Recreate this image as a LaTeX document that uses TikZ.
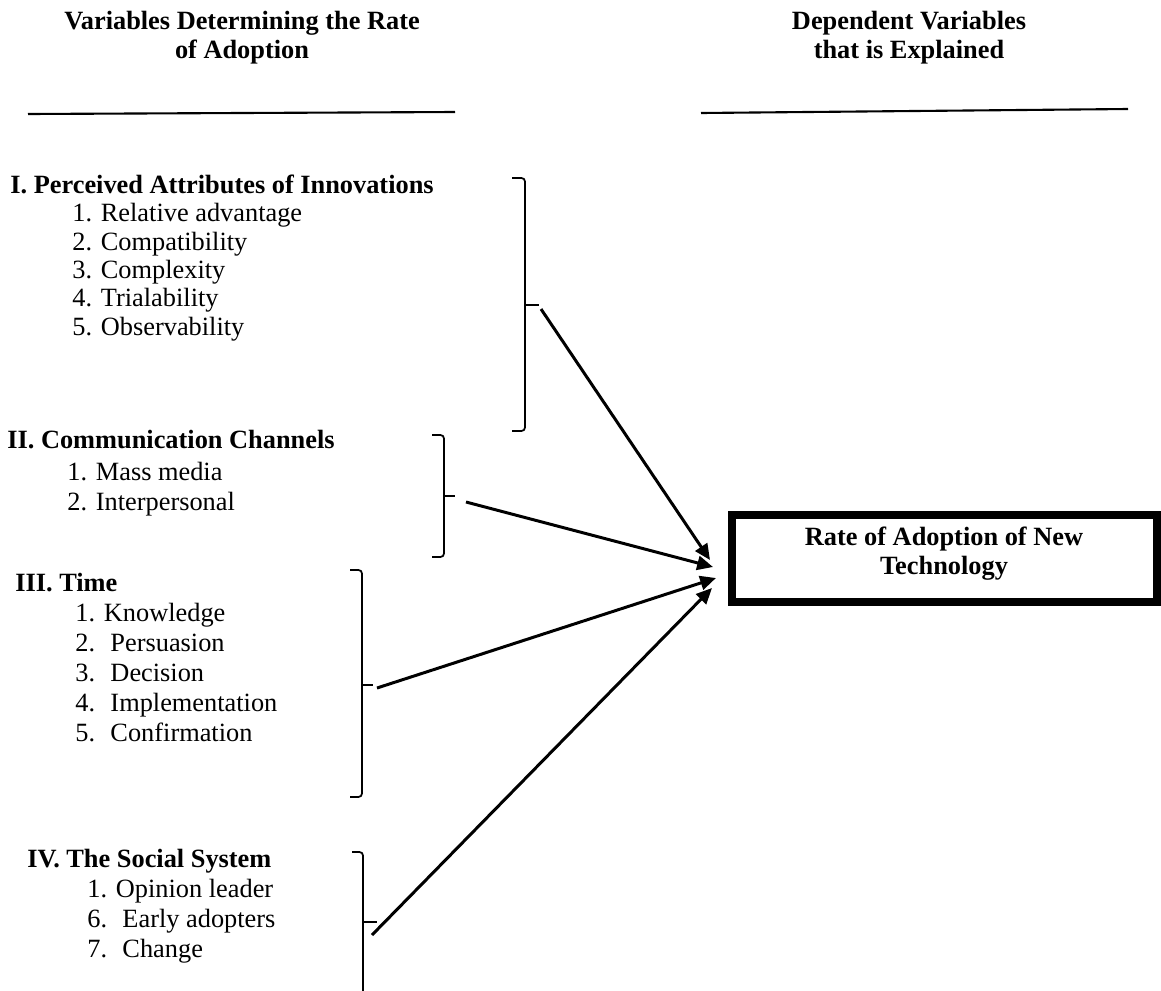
\documentclass[tikz,border=0pt]{standalone}
\usepackage{fontspec}
\setmainfont{Liberation Serif}
\usetikzlibrary{arrows.meta}

\begin{document}
\begin{tikzpicture}[x=0.02cm, y=-0.02cm, >={Triangle[length=9pt, width=8pt]},
    every node/.style={inner sep=0pt, font=\fontsize{15}{17}\selectfont},
    head/.style={font=\fontsize{15}{16}\selectfont\bfseries, align=center, anchor=base},
    grp/.style={font=\fontsize{15}{17}\selectfont\bfseries, anchor=base west},
    items/.style={align=left, anchor=base west},
    brace/.style={line width=1pt, rounded corners=2pt},
    link/.style={->, line width=1.7pt}]
    \useasboundingbox (0,0) rectangle (1161,991);
    % column heads (base = last line)
    \node (lhead) [head] at (242,58) {Variables Determining the Rate\\ of Adoption};
    \node (rhead) [head] at (909,58) {Dependent Variables\\ that is Explained};
    \draw[line width=1.2pt] (28,114) -- (455,112);
    \draw[line width=1.2pt] (701,113) -- (1128,109);
    % the four groups
    \node (attr) [grp] at (10,193) {I. Perceived Attributes of Innovations};
    \node (attrlist) [items, font=\fontsize{15}{16.1}\selectfont] at (72,335) {1. Relative advantage\\ 2. Compatibility\\ 3. Complexity\\ 4. Trialability\\ 5. Observability};
    \node (chan) [grp] at (7,448) {II. Communication Channels};
    \node (chanlist) [items] at (67,510) {1. Mass media\\ 2. Interpersonal};
    \node (time) [grp] at (15,591) {III. Time};
    \node (timelist) [items] at (75,741) {1. Knowledge\\ 2.~ Persuasion\\ 3.~ Decision\\ 4.~ Implementation\\ 5.~ Confirmation};
    \node (soc) [grp] at (27,867) {IV. The Social System};
    \node (soclist) [items] at (87,957) {1. Opinion leader\\ 6.~ Early adopters\\ 7.~ Change};
    % brackets
    \draw[brace] (512,178) -- (525,178) -- (525,431) -- (512,431);
    \draw[brace] (525,305) -- (539,305);
    \draw[brace] (432,435) -- (444,435) -- (444,557) -- (432,557);
    \draw[brace] (444,496) -- (455,496);
    \draw[brace] (350,570) -- (362,570) -- (362,797) -- (350,797);
    \draw[brace] (362,685) -- (373,685);
    \draw[brace] (352,852) -- (363,852) -- (363,991);
    \draw[brace] (363,922) -- (377,922);
    % explained variable
    \node (rate) [draw, line width=4.8pt, minimum width=8.5cm, minimum height=1.74cm] at (944.5,558.5) {};
    \node (ratetext) [head, font=\fontsize{15}{16.5}\selectfont\bfseries] at (944,574) {Rate of Adoption of New\\ Technology};
    \coordinate (fromI) at (541,309);
    \coordinate (fromII) at (466,502);
    \coordinate (fromIII) at (377,688);
    \coordinate (fromIV) at (372,935);
    \coordinate (toI) at (710,560);
    \coordinate (toII) at (713,567);
    \coordinate (toIII) at (716,578);
    \coordinate (toIV) at (712,588);
    \draw[link] (fromI) -- (toI);
    \draw[link] (fromII) -- (toII);
    \draw[link] (fromIII) -- (toIII);
    \draw[link] (fromIV) -- (toIV);
\end{tikzpicture}
\end{document}
